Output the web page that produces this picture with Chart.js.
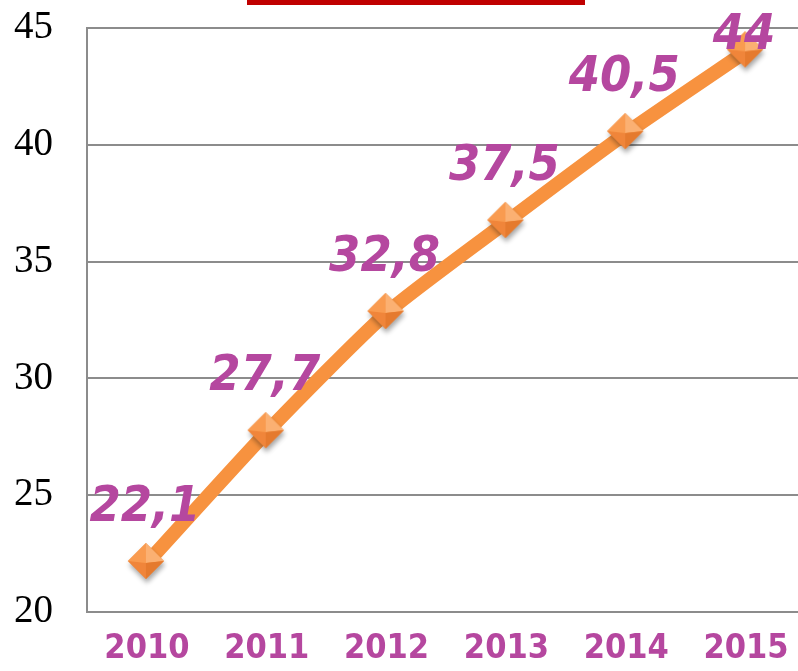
<!DOCTYPE html>
<html>
<head>
<meta charset="utf-8">
<script src="https://cdn.jsdelivr.net/npm/chart.js@4"></script>
<style>
  html, body { margin: 0; padding: 0; background: #fff; overflow: hidden; }
  #wrap { position: relative; width: 798px; height: 671px; }
  #titleBar { position: absolute; left: 247px; top: 0; width: 338px; height: 5px; background: #c00000; }
</style>
</head>
<body>
<div id="wrap">
  <canvas id="lineChart" width="806" height="671"></canvas>
  <div id="titleBar"></div>
</div>
<script>
const years = ['2010', '2011', '2012', '2013', '2014', '2015'];
const values = [22.1, 27.7, 32.8, 36.7, 40.5, 44];
const valueLabels = ['22,1', '27,7', '32,8', '37,5', '40,5', '44'];
const yTicks = [20, 25, 30, 35, 40, 45];

const purple = '#b5479f';
const orange = '#f7923f';

// marcador en forma de rombo con relieve (tipo pirámide)
function makeDiamond() {
    const c = document.createElement('canvas');
    c.width = 50;
    c.height = 50;
    const g = c.getContext('2d');
    const cx = 24, cy = 23, r = 18;
    // sombra
    g.save();
    g.shadowColor = 'rgba(0,0,0,0.35)';
    g.shadowBlur = 5;
    g.shadowOffsetX = 1;
    g.shadowOffsetY = 4;
    g.beginPath();
    g.moveTo(cx, cy - r); g.lineTo(cx + r, cy); g.lineTo(cx, cy + r); g.lineTo(cx - r, cy);
    g.closePath();
    g.fillStyle = '#f28a3a';
    g.fill();
    g.restore();
    const faces = [
        [[cx, cy - r], [cx + r, cy], '#fbb072'],
        [[cx + r, cy], [cx, cy + r], '#e57a2e'],
        [[cx, cy + r], [cx - r, cy], '#f0853a'],
        [[cx - r, cy], [cx, cy - r], '#f99b50']
    ];
    faces.forEach(f => {
        g.beginPath();
        g.moveTo(cx, cy + 2);
        g.lineTo(f[0][0], f[0][1]);
        g.lineTo(f[1][0], f[1][1]);
        g.closePath();
        g.fillStyle = f[2];
        g.fill();
    });
    return c;
}

// etiquetas de valor encima de cada punto
const valueLabelPlugin = {
    id: 'valueLabels',
    afterDatasetsDraw(chart) {
        const ctx = chart.ctx;
        const meta = chart.getDatasetMeta(0);
        ctx.save();
        ctx.font = 'italic bold 50px "DejaVu Sans Condensed", "DejaVu Sans"';
        ctx.fillStyle = purple;
        ctx.textAlign = 'center';
        ctx.textBaseline = 'middle';
        meta.data.forEach((pt, i) => {
            let y = Math.max(pt.y - 55, 36);
            ctx.fillText(valueLabels[i], pt.x - 2, y);
        });
        ctx.restore();
    }
};

document.addEventListener('DOMContentLoaded', function() {
    const ctx = document.getElementById('lineChart').getContext('2d');
    new Chart(ctx, {
        type: 'line',
        data: {
            labels: years,
            datasets: [{
                data: values,
                borderColor: orange,
                borderWidth: 14,
                tension: 0.2,
                pointStyle: makeDiamond(),
                pointRadius: 18,
                pointHoverRadius: 18
            }]
        },
        options: {
            responsive: false,
            animation: false,
            layout: { autoPadding: false, padding: { top: 28, left: 0, right: 0, bottom: 0 } },
            plugins: {
                legend: { display: false },
                tooltip: { enabled: false }
            },
            scales: {
                x: {
                    offset: true,
                    grid: { display: false },
                    border: { display: true, color: '#8c8c8c', width: 2 },
                    ticks: {
                        color: purple,
                        font: { family: '"DejaVu Sans Condensed", "DejaVu Sans"', weight: 'bold', size: 34 },
                        padding: 9
                    },
                    afterFit(scale) {
                        scale.height = 59;
                        scale.paddingLeft = 0;
                        scale.paddingRight = 0;
                    }
                },
                y: {
                    min: 20,
                    max: 45,
                    afterBuildTicks(scale) { scale.ticks = yTicks.map(v => ({ value: v })); },
                    grid: { color: '#8c8c8c', lineWidth: 2, drawTicks: false },
                    border: { display: true, color: '#8c8c8c', width: 2 },
                    ticks: {
                        color: '#000',
                        font: { family: '"Liberation Serif"', size: 39 },
                        padding: 34
                    },
                    afterFit(scale) {
                        scale.width = 87;
                        scale.paddingTop = 0;
                        scale.paddingBottom = 0;
                    }
                }
            }
        },
        plugins: [valueLabelPlugin]
    });
});
</script>
</body>
</html>
